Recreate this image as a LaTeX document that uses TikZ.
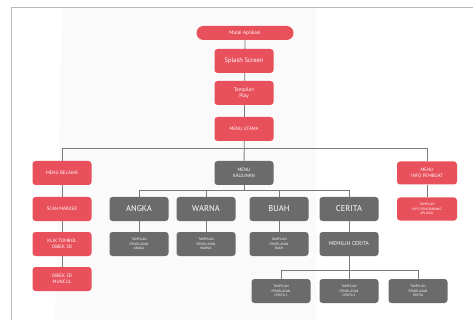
\documentclass[tikz,border=0pt]{standalone}
\usepackage{fontspec}
\setmainfont{PT Sans}
\usetikzlibrary{backgrounds}
\definecolor{merah}{HTML}{E8505B}
\definecolor{abu}{HTML}{6B6B6B}
\definecolor{garis}{HTML}{7A7A7A}
\begin{document}
\begin{tikzpicture}[x=1pt,y=-1pt,
  kotak/.style={rounded corners=3pt,text=white,align=center,minimum width=59pt,minimum height=24pt,inner sep=1pt},
  merahbox/.style={kotak,fill=merah,font=\fontsize{4.8}{5.8}\selectfont},
  abubox/.style={kotak,fill=abu,font=\fontsize{4.8}{5.8}\selectfont},
  kecil/.style={font=\fontsize{3.4}{4.2}\selectfont},
  besar/.style={font=\fontsize{8.5}{9.5}\selectfont},
  line/.style={draw=garis,line width=0.8pt}]

 \useasboundingbox (0,0) rectangle (473,320);

% main column
 \node[merahbox,rounded corners=7pt,minimum width=97pt,minimum height=14pt,font=\fontsize{5.2}{6}\selectfont] (mulai) at (245,33) {Mulai Aplikasi};
 \node[merahbox,font=\fontsize{6.5}{7.5}\selectfont] (splash) at (244,61) {Splash Screen};
 \node[merahbox,font=\fontsize{5.2}{6.4}\selectfont] (play) at (244,93) {Tampilan\\Play};
 \node[merahbox] (utama) at (244,129) {MENU UTAMA};
 \coordinate (bus) at (244,148);

% menu belajar
 \node[merahbox] (belajar) at (62,173) {MENU BELAJAR};
 \node[merahbox] (scan) at (62,209) {SCAN MARKER};
 \node[merahbox] (klik) at (62,244) {KLIK TOMBOL\\OBJEK 3D};
 \node[merahbox] (muncul) at (62,279) {OBJEK 3D\\MUNCUL};

% menu kaulinan
 \node[abubox] (kaulinan) at (244,173) {MENU\\KAULINAN};
 \coordinate (bus2) at (244,190);
 \node[abubox,besar] (angka) at (139,209) {ANGKA};
 \node[abubox,besar] (warna) at (206,209) {WARNA};
 \node[abubox,besar] (buah) at (279,209) {BUAH};
 \node[abubox,besar] (cerita) at (349,209) {CERITA};
 \node[abubox,kecil] (tangka) at (139,244) {TAMPILAN\\PENJELASAN\\ANGKA};
 \node[abubox,kecil] (twarna) at (206,244) {TAMPILAN\\PENJELASAN\\WARNA};
 \node[abubox,kecil] (tbuah) at (279,244) {TAMPILAN\\PENJELASAN\\BUAH};
 \node[abubox,font=\fontsize{5.5}{6.5}\selectfont] (memilih) at (349,244) {MEMILIH CERITA};
 \coordinate (bus3) at (349,270);
 \node[abubox,kecil] (cerita1) at (281,291) {TAMPILAN\\PENJELASAN\\CERITA 1};
 \node[abubox,kecil] (cerita2) at (349,291) {TAMPILAN\\PENJELASAN\\CERITA 2};
 \node[abubox,kecil] (cerita3) at (418,291) {TAMPILAN\\PENJELASAN\\CERITA};

% menu info
 \node[merahbox,minimum width=60pt,minimum height=23pt] (info) at (427,173) {MENU\\INFO PEMBUAT};
 \node[merahbox,kecil,minimum width=60pt,minimum height=23pt] (tinfo) at (427,209) {TAMPILAN\\INFO PENGEMBANG\\APLIKASI};

 \begin{scope}[on background layer]
  \fill[gray!4] (62,7) -- (316,7) -- (316,320) -- (55,320) -- cycle; % light panel
  \draw[gray!55,line width=0.8pt] (473,7) -- (11,7) -- (11,320); % frame
  \draw[line] (mulai) -- (kaulinan);
  \draw[line] (belajar) -- (muncul);
  \draw[line] (belajar) -- (belajar |- bus) -| (info);
  \draw[line] (info) -- (tinfo);
  \draw[line] (kaulinan) -- (bus2);
  \draw[line] (angka) -- (angka |- bus2) -| (cerita);
  \draw[line] (warna) -- (warna |- bus2);
  \draw[line] (buah) -- (buah |- bus2);
  \draw[line] (angka) -- (tangka);
  \draw[line] (warna) -- (twarna);
  \draw[line] (buah) -- (tbuah);
  \draw[line] (cerita) -- (memilih) -- (bus3);
  \draw[line] (cerita1) -- (cerita1 |- bus3) -| (cerita3);
  \draw[line] (bus3) -- (cerita2);
 \end{scope}

\end{tikzpicture}
\end{document}
